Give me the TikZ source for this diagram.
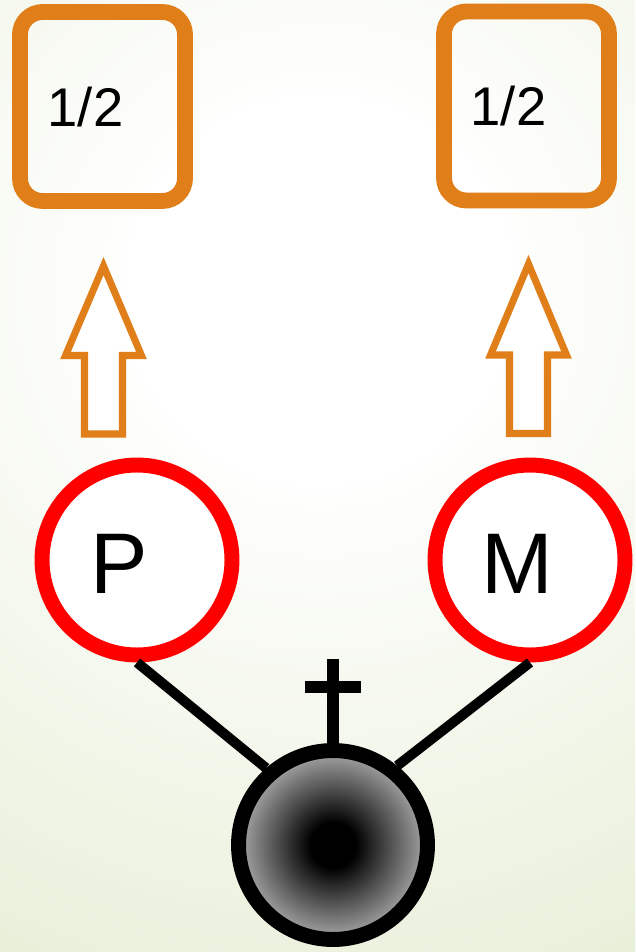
\documentclass[tikz,border=0pt]{standalone}
\usepackage{fontspec}
\setmainfont{Liberation Sans}
\usetikzlibrary{positioning}

\definecolor{halforange}{RGB}{224,127,26}
\definecolor{parentred}{RGB}{255,0,0}
\definecolor{bgouter}{RGB}{232,239,216}
\pgfdeclareradialshading{bgglow}{\pgfpointorigin}{color(0bp)=(white); color(6bp)=(white); color(25bp)=(bgouter); color(50bp)=(bgouter)}
\pgfdeclareradialshading{darkcore}{\pgfpointorigin}{color(0bp)=(black); color(6bp)=(black); color(14bp)=(black!72); color(25bp)=(black!34); color(50bp)=(black!34)}

\begin{document}
\begin{tikzpicture}[x=0.02cm, y=-0.02cm,
					halfbox/.style={draw=halforange, line width=9pt, rounded corners=0.45cm,
						minimum width=3.3cm, minimum height=3.78cm, inner sep=0pt},
					parent/.style={circle, draw=parentred, fill=white, line width=8.5pt,
						minimum size=3.8cm, inner sep=0pt},
					child/.style={circle, draw=black, shading=darkcore, line width=8.5pt,
						minimum size=3.78cm, inner sep=0pt},
					frac/.style={anchor=base, font=\fontsize{31}{32}\selectfont},
					letter/.style={anchor=base, font=\fontsize{49}{50}\selectfont},
					uparrow/.style={draw=halforange, line width=4pt, fill=white},
					link/.style={draw=black, line width=5.7pt}]

	\useasboundingbox (0,0) rectangle (635,952);
	\begin{scope}
		\clip (0,0) rectangle (635,952);
		\fill[bgouter] (0,0) rectangle (635,952);
		\shade[shading=bgglow] (320,290) circle (15cm);
	\end{scope}

	% transmission boxes
	\node[halfbox] (halfP) at (102.5,106.5) {};
	\node[halfbox] (halfM) at (526.5,106)   {};
	\node[frac] (fracP) at (85.5,127) {1/2};
	\node[frac] (fracM) at (508.5,126) {1/2};

	% hollow arrows
	\draw[uparrow] (103.5,266) -- (141.5,355.5) -- (122.5,355.5) -- (122.5,434)
		-- (84.5,434) -- (84.5,355.5) -- (65.5,355.5) -- cycle;
	\draw[uparrow] (528.5,264) -- (566.5,355) -- (547.5,355) -- (547.5,433.5)
		-- (509.5,433.5) -- (509.5,355) -- (490.5,355) -- cycle;

	% parents
	\node[parent] (P) at (137,560) {};
	\node[parent] (M) at (530,560) {};
	\node[letter] (letterP) at (119,593) {P};
	\node[letter] (letterM) at (517.5,593) {M};

	% deceased child
	\node[child] (sun) at (333,845) {};
	\draw[link] (P.south) -- (sun.131);
	\draw[link] (M.south) -- (sun.51);
	\draw[line width=6.5pt] (sun.north) -- ++(0,-84);
	\draw[line width=6.8pt] (sun.north) ++(-28,-56) -- ++(56,0);
\end{tikzpicture}
\end{document}
